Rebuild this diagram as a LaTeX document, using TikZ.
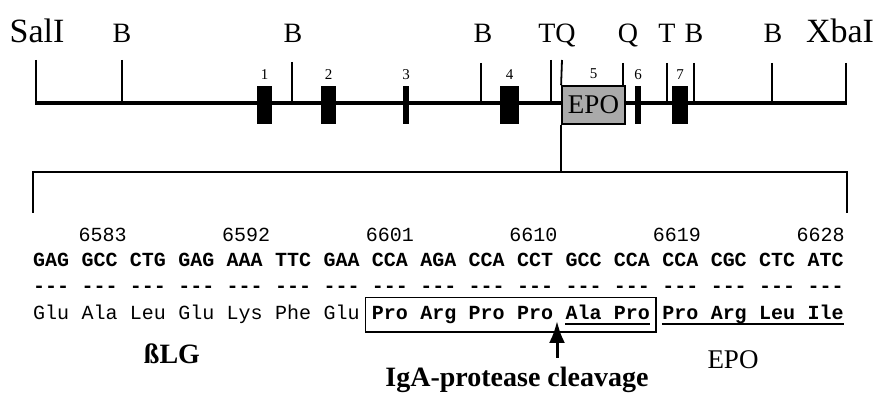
\documentclass[tikz,border=0pt]{standalone}
\usepackage{fontspec}
\setmainfont{Liberation Serif}
\setmonofont{Liberation Mono}
\usetikzlibrary{arrows.meta, positioning, calc, fit}
\definecolor{epogray}{RGB}{170, 170, 170}

\begin{document}
\begin{tikzpicture}[
        x=0.5pt, y=-0.5pt,
        site/.style={anchor=base, inner sep=0pt, font=\fontsize{14}{14}\selectfont},
        bigsite/.style={anchor=base, inner sep=0pt, font=\fontsize{17}{17}\selectfont},
        sitetick/.style={line width=0.9pt},
        exon/.style={rectangle, fill=black, inner sep=0pt, minimum height=19pt,
            label={[inner sep=0pt, label distance=3pt, font=\fontsize{7.5}{7.5}\selectfont]above:#1}},
        epobox/.style={rectangle, draw, fill=epogray, line width=0.9pt, inner sep=0pt,
            minimum width=31.5pt, minimum height=19pt, font=\fontsize{13.5}{13.5}\selectfont},
        posnum/.style={anchor=base east, inner sep=0pt, font=\fontsize{10}{10}\selectfont\ttfamily},
        nt/.style={anchor=base, inner sep=0pt, font=\fontsize{10}{10}\selectfont\ttfamily\bfseries},
        aaplain/.style={anchor=base, inner sep=0pt, text height=7pt, text depth=2pt, font=\fontsize{10}{10}\selectfont\ttfamily},
        aabold/.style={aaplain, font=\fontsize{10}{10}\selectfont\ttfamily\bfseries},
        cutbox/.style={draw, line width=0.9pt, inner xsep=3pt, inner ysep=4pt},
        tag/.style={inner sep=0pt, font=\fontsize{14}{14}\selectfont\bfseries},
    ]
    \useasboundingbox (0,0) rectangle (885,394);

    % Mapa
    \draw[line width=2.3pt] (35,103) -- (847,103);
    \foreach \x/\top in {36/60, 122/60, 292/62, 481/63, 551/60, 623/63, 667/63, 694/63, 772/63, 846/63}
        \draw[sitetick] (\x,\top) -- (\x,103);

    % Sitios
    \node[bigsite] (sal) at (37,43) {SalI};
    \foreach \x/\lab [count=\k] in {122/B, 293/B, 483/B, 557/TQ, 628/Q, 667/T, 694/B, 773/B}
        \node[site] (s\k) at (\x,43) {\lab};
    \node[bigsite] (xba) at (840,43) {XbaI};

    % Exones
    \node[exon=1, minimum width=7.5pt] (e1) at (264.5,105) {};
    \node[exon=2, minimum width=7.5pt] (e2) at (328.5,105) {};
    \node[exon=3, minimum width=3pt] (e3) at (406,105) {};
    \node[exon=4, minimum width=9.5pt] (e4) at (509.5,105) {};
    \node[exon=6, minimum width=3pt] (e6) at (638,105) {};
    \node[exon=7, minimum width=8pt] (e7) at (680,105) {};

    % EPO
    \coordinate (tl) at (33,172);
    \coordinate (tr) at (847,172);
    \node[epobox, label={[inner sep=0pt, label distance=3pt, font=\fontsize{7.5}{7.5}\selectfont]above:5}] (epo) at (593.5,105) {EPO};
    \draw[sitetick] (562,60) -- (epo.north west);
    \draw[sitetick] (epo.south west) -- (epo.south west |- tl);
    \draw[line width=1pt] (33,213) -- (tl) -- (tr) -- (847,213);

    % Secuencia
    \foreach \n [count=\k from 0] in {6583, 6592, 6601, 6610, 6619, 6628}
        \node[posnum] (p\n) at ({127+143.6*\k},242) {\n};
    \foreach \cod [count=\i] in {GAG,GCC,CTG,GAG,AAA,TTC,GAA,CCA,AGA,CCA,CCT,GCC,CCA,CCA,CGC,CTC,ATC} {
        \node[nt] (c\i) at ({51.15+48.4*(\i-1)},267) {\cod};
        \node[nt] (d\i) at ({51.15+48.4*(\i-1)},293) {---};
    }
    \foreach \aa [count=\i] in {Glu,Ala,Leu,Glu,Lys,Phe,Glu}
        \node[aaplain] (a\i) at ({51.15+48.4*(\i-1)},320) {\aa};
    \foreach \aa [count=\i from 8] in {Pro,Arg,Pro,Pro,Ala,Pro,Pro,Arg,Leu,Ile}
        \node[aabold] (a\i) at ({51.15+48.4*(\i-1)},320) {\aa};

    \node[cutbox, fit=(a8)(a13)] (cleft) {};
    \draw[line width=0.6pt] ($(a12.base west)+(0,4)$) -- ($(a13.base east)+(0,4)$);
    \draw[line width=0.6pt] ($(a14.base west)+(0,4)$) -- ($(a17.base east)+(0,4)$);

    % Etiquetas
    \node[tag, anchor=base] (blg) at (172,364) {ßLG};
    \node[tag, anchor=base] (cleave) at (517,387) {IgA-protease cleavage};
    \node[anchor=base, inner sep=0pt, font=\fontsize{13.5}{13.5}\selectfont] (epolab) at (733,369) {EPO};
    \coordinate (tail) at (557,358);
    \coordinate (tip) at (557,321);
    \draw[-{Latex[length=11pt,width=8pt]}, line width=1.5pt] (tail) -- (tip);

\end{tikzpicture}
\end{document}
